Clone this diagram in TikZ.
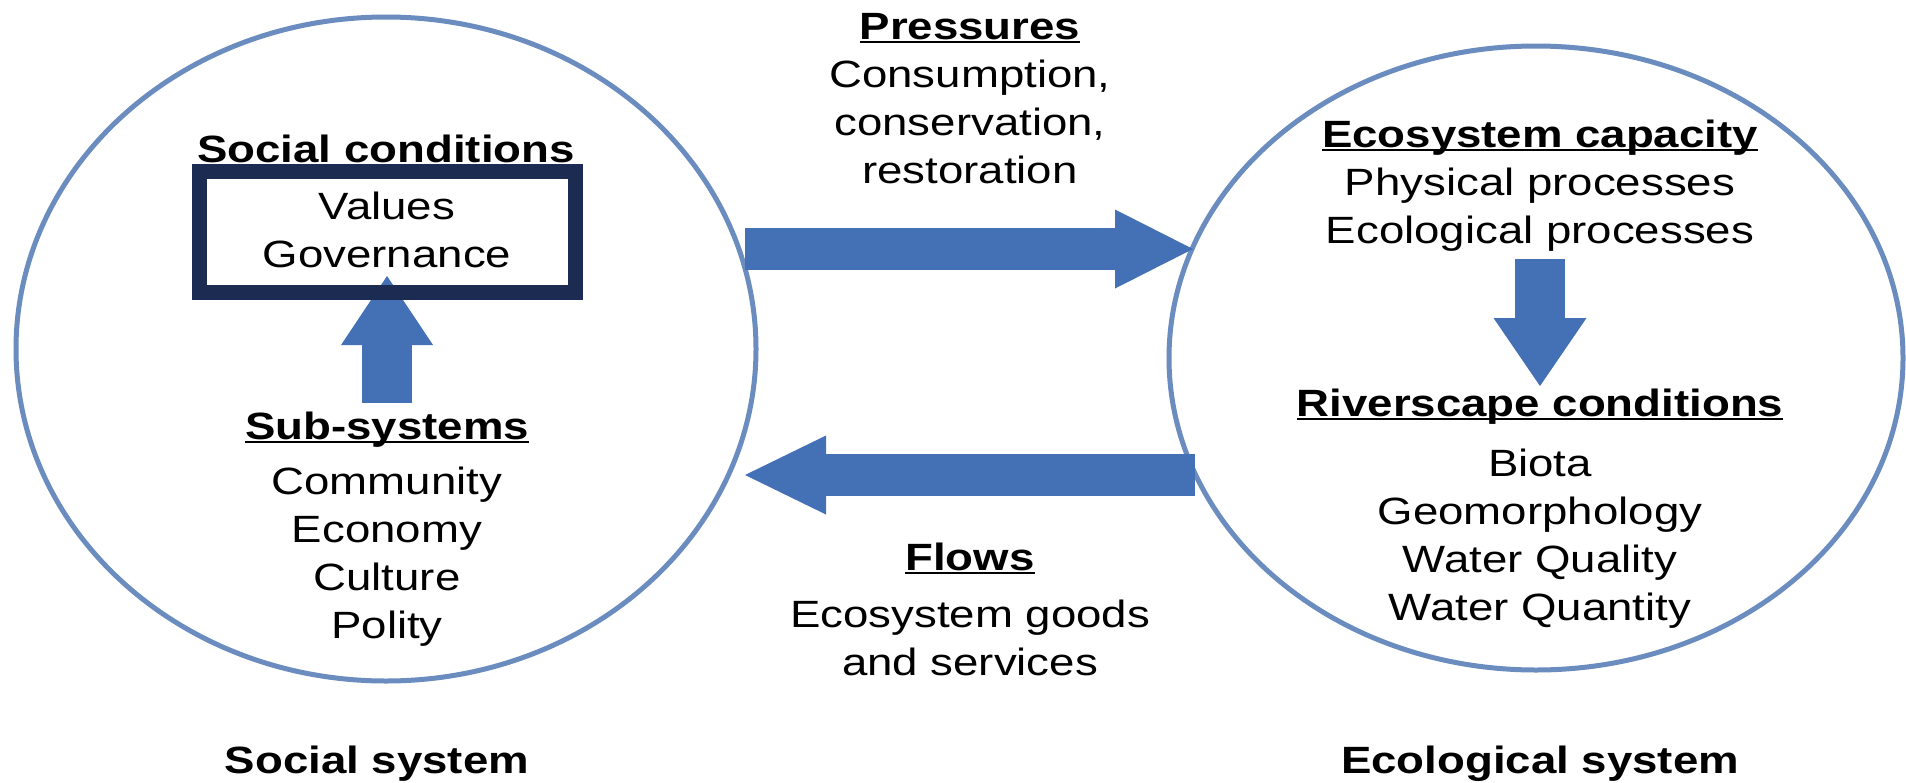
\documentclass[tikz,border=0pt]{standalone}
\usepackage{fontspec}
\setmainfont{Liberation Sans}[FakeStretch=1.2]
\usetikzlibrary{arrows.meta,shapes.geometric}
\definecolor{ringblue}{RGB}{106,140,190}
\definecolor{arrowblue}{RGB}{68,112,182}
\definecolor{boxnavy}{RGB}{28,43,82}
\newcommand{\uhead}[1]{\setbox0\hbox{\bfseries #1}\rlap{\rule[-4pt]{\wd0}{2.5pt}}\box0}

\begin{document}
\begin{tikzpicture}[x=1pt,y=-1pt,
  every node/.style={font=\fontsize{38}{48}\selectfont,align=center,inner sep=0pt,anchor=base},
  ring/.style={draw=ringblue,line width=5pt,ellipse,anchor=center},
  fat/.style n args={3}{draw=arrowblue,line width=#1,-{Triangle[width=#2,length=#3,line width=0pt]}}]

\useasboundingbox (0,0) rectangle (1906,782);

\node[ring,minimum width=740pt,minimum height=664pt] (socsys) at (386,349) {};
\node[ring,minimum width=734pt,minimum height=624pt] (ecosys) at (1536,358) {};

% social side (multi-line nodes sit on their last baseline)
\node (soccond) at (386,162) {\bfseries Social conditions};
\coordinate (up-a) at (387,403);
\coordinate (up-b) at (387,276);
\draw[fat={50pt}{92pt}{69pt}] (up-a) -- (up-b);
\node[draw=boxnavy,line width=15pt,minimum width=376pt,minimum height=121pt,anchor=center] (govbox) at (387,231.5) {};
\node (govtext) at (387,267) {Values\\Governance};
\node (subsys) at (387,439) {\uhead{Sub-systems}};
\node (sublist) at (387,638) {Community\\Economy\\Culture\\Polity};
\node (soclabel) at (377,773) {\bfseries Social system};

% between the two
\node (pres) at (970,183) {\uhead{Pressures}\\Consumption,\\conservation,\\restoration};
\coordinate (pres-a) at (745,249);
\coordinate (pres-b) at (1193,249);
\draw[fat={42pt}{79pt}{78pt}] (pres-a) -- (pres-b);
\coordinate (flow-a) at (1195,475);
\coordinate (flow-b) at (745,475);
\draw[fat={42pt}{79pt}{81pt}] (flow-a) -- (flow-b);
\node (flows) at (970,570) {\uhead{Flows}};
\node (goods) at (970,675) {Ecosystem goods\\and services};

% ecological side
\node (capac) at (1540,243) {\uhead{Ecosystem capacity}\\Physical processes\\Ecological processes};
\coordinate (down-a) at (1540,259);
\coordinate (down-b) at (1540,386);
\draw[fat={50pt}{93pt}{68pt}] (down-a) -- (down-b);
\node (river) at (1540,416) {\uhead{Riverscape conditions}};
\node (rivlist) at (1540,620) {Biota\\Geomorphology\\Water Quality\\Water Quantity};
\node (ecolabel) at (1540,773) {\bfseries Ecological system};

\end{tikzpicture}
\end{document}
